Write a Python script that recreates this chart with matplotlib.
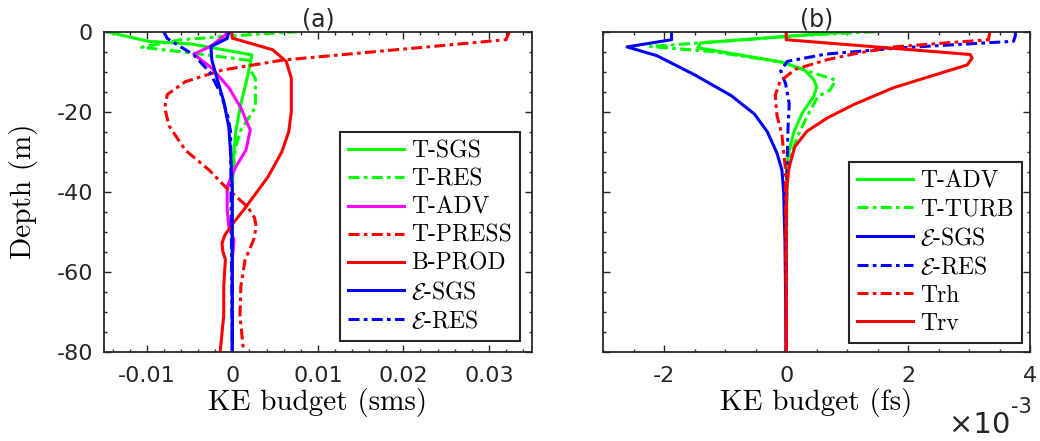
import matplotlib
matplotlib.use("Agg")
import matplotlib.pyplot as plt
from matplotlib.ticker import MultipleLocator

plt.rcParams['mathtext.fontset'] = 'cm'
plt.rcParams['axes.unicode_minus'] = False

# ---- panel (a): KE budget, single-mode scaling (sms) ----
tsgs_z = [0, -2.4, -3.1, -5.8, -12, -18, -25, -32, -40, -80]
tsgs_v = [-0.0147, -0.0098, -0.0047, 0.0023, 0.0017, 0.0010, 0.0004, 0.0001, 0.0, 0.0]

tres_z = [0, -0.6, -2.0, -3.9, -5.0, -7.2, -9.2, -11.7, -18.8, -21.3, -24.6, -28.8, -34.6, -40, -80]
tres_v = [0.0077, 0.003, -0.006, -0.0106, -0.006, 0.0021, 0.002, 0.0027, 0.0027, 0.002, 0.001,
          0.0004, 0.0001, 0.0, 0.0]

tadv_z = [0, -1.5, -3.6, -5.6, -9.1, -14, -19, -24.6, -29.6, -33.8, -38.8, -44.6, -48.8, -52,
          -57, -80]
tadv_v = [-0.0004, -0.0012, -0.0025, -0.0045, -0.0024, -0.0004, 0.001, 0.0021, 0.0016, 0.0004,
          -0.0006, -0.0006, -0.0004, 0.0002, 0.0, 0.0]

tpress_z = [0, -2.0, -7.1, -9.6, -12.5, -15.7, -19, -23.5, -29.6, -34.6, -38.8, -43.8, -46.5,
            -48.7, -52, -57, -63.7, -71, -79.6]
tpress_v = [0.0324, 0.032, 0.0059, -0.0012, -0.0055, -0.0076, -0.0079, -0.0074, -0.0055, -0.0027,
            -0.0008, 0.0018, 0.0026, 0.0028, 0.0025, 0.0015, 0.001, 0.0009, 0.0013]

bprod_z = [0, -1.6, -4.5, -7.4, -11.6, -20, -25, -30, -36.2, -43.8, -48.7, -51, -52.9, -55, -57,
           -60, -63.7, -71, -79.6]
bprod_v = [-0.0001, 0.0, 0.0047, 0.0063, 0.0069, 0.0069, 0.0066, 0.0058, 0.0042, 0.0016,
           -0.0002, -0.0009, -0.0012, -0.0011, -0.0008, -0.0009, -0.001, -0.001, -0.0014]

esgs_z = [0, -1.7, -3.7, -7.0, -11.6, -17.4, -24, -30.4, -38.8, -80]
esgs_v = [-0.0004, -0.0006, -0.0025, -0.0024, -0.0018, -0.001, -0.0004, -0.0002, 0.0, 0.0]

eres_z = [0, -1.7, -5.8, -10.2, -15.7, -21.3, -25, -80]
eres_v = [-0.008, -0.0076, -0.0045, -0.0026, -0.0013, -0.0005, -0.0002, 0.0]

# ---- panel (b): KE budget, full-scaling (fs), in units of 1e-3 ----
adv_z = [0, -0.7, -2.8, -4.0, -7.6, -9.6, -11.9, -13.8, -16.2, -20.4, -25.4, -30.4, -34.6, -80]
adv_v = [1.05, 0.4, -1.4, -1.45, -0.07, 0.3, 0.45, 0.50, 0.45, 0.26, 0.12, 0.04, 0.01, 0.0]

turb_z = [0, -1.0, -3.7, -5.0, -7.6, -9.5, -12.1, -14.6, -16.2, -21.0, -26.0, -31.2, -36.2, -80]
turb_v = [1.46, 0.2, -2.23, -1.2, -0.07, 0.29, 0.81, 0.72, 0.52, 0.35, 0.19, 0.07, 0.01, 0.0]

esgs_b_z = [0, -2.0, -3.8, -6.0, -10.8, -16.0, -20.6, -25.0, -30.4, -34.6, -40.4, -47, -52, -80]
esgs_b_v = [-1.88, -1.88, -2.61, -2.12, -1.5, -0.9, -0.52, -0.31, -0.15, -0.07, -0.04, -0.03,
            -0.02, 0.0]

eres_b_z = [0, -1.0, -2.4, -4.0, -5.6, -7.4, -9.8, -13.0, -18.0, -24, -30.4, -38.8, -50, -80]
eres_b_v = [3.76, 3.76, 3.73, 1.9, 0.65, 0.02, -0.09, -0.01, 0.05, 0.03, 0.02, 0.01, 0.0, 0.0]

trh_z = [0, -2.0, -3.8, -5.4, -7.0, -9.4, -12.4, -15.9, -21.0, -25.7, -28.8, -34.6, -80]
trh_v = [3.34, 3.32, 1.76, 1.16, 0.67, 0.15, -0.1, -0.18, -0.15, -0.07, -0.05, -0.01, 0.0]

trv_z = [0, -2.0, -5.7, -6.6, -8.3, -14, -18.2, -21.6, -24.9, -28.8, -33.8, -38.8, -47, -80]
trv_v = [0.0, 0.0, 3.02, 3.05, 2.97, 1.76, 1.11, 0.67, 0.34, 0.14, 0.05, 0.01, 0.0, 0.0]

green, blue, red, magenta = '#00ff00', '#0000ff', '#ff0000', '#ff00ff'
dashdot = (0, (3.6, 1.4, 1.2, 1.4))
lw = 2.2
frame_col = '#262626'
tick_font = dict(family='DejaVu Sans', size=16)
cm_font = 'cmr10'

fig = plt.figure(figsize=(10.4, 4.41), dpi=100)
ax1 = fig.add_axes([0.100, 0.2025, 0.4112, 0.7256])
ax2 = fig.add_axes([0.5801, 0.2025, 0.4103, 0.7256])

ax1.plot(tsgs_v, tsgs_z, color=green, lw=lw, label='T-SGS')
ax1.plot(tres_v, tres_z, color=green, lw=lw, ls=dashdot, label='T-RES')
ax1.plot(tadv_v, tadv_z, color=magenta, lw=lw, label='T-ADV')
ax1.plot(tpress_v, tpress_z, color=red, lw=lw, ls=dashdot, label='T-PRESS')
ax1.plot(bprod_v, bprod_z, color=red, lw=lw, label='B-PROD')
ax1.plot(esgs_v, esgs_z, color=blue, lw=lw, label=r'$\mathcal{E}$-SGS')
ax1.plot(eres_v, eres_z, color=blue, lw=lw, ls=dashdot, label=r'$\mathcal{E}$-RES')

ax2.plot(adv_v, adv_z, color=green, lw=lw, label='T-ADV')
ax2.plot(turb_v, turb_z, color=green, lw=lw, ls=dashdot, label='T-TURB')
ax2.plot(esgs_b_v, esgs_b_z, color=blue, lw=lw, label=r'$\mathcal{E}$-SGS')
ax2.plot(eres_b_v, eres_b_z, color=blue, lw=lw, ls=dashdot, label=r'$\mathcal{E}$-RES')
ax2.plot(trh_v, trh_z, color=red, lw=lw, ls=dashdot, label='Trh')
ax2.plot(trv_v, trv_z, color=red, lw=lw, label='Trv')

ax1.set_xlim(-0.015, 0.035)
ax1.set_xticks([-0.01, 0, 0.01, 0.02, 0.03])
ax1.set_xticklabels(['-0.01', '0', '0.01', '0.02', '0.03'])
ax1.xaxis.set_minor_locator(MultipleLocator(0.002))
ax2.set_xlim(-3, 4)
ax2.set_xticks([-2, 0, 2, 4])
ax2.set_xticklabels(['-2', '0', '2', '4'])
ax2.xaxis.set_minor_locator(MultipleLocator(0.5))

for ax in (ax1, ax2):
    ax.set_ylim(-80, 0)
    ax.set_yticks([0, -20, -40, -60, -80])
    ax.yaxis.set_minor_locator(MultipleLocator(5))
    ax.tick_params(which='both', direction='in', top=True, right=True, color=frame_col,
                   width=1.0, labelcolor='#262626')
    ax.tick_params(which='major', length=5, pad=8)
    ax.tick_params(axis='x', which='major', pad=10)
    ax.tick_params(which='minor', length=2.5)
    for sp in ax.spines.values():
        sp.set_color(frame_col)
        sp.set_linewidth(1.3)

ax1.set_yticklabels(['0', '-20', '-40', '-60', '-80'])
ax2.set_yticklabels([])
for ax in (ax1, ax2):
    for lab in ax.get_xticklabels() + ax.get_yticklabels():
        lab.set(**tick_font)

ax1.set_title('(a)', fontsize=17, pad=2, color='#262626')
ax2.set_title('(b)', fontsize=17, pad=2, color='#262626')

ax1.set_ylabel('Depth (m)', family=cm_font, fontsize=21, labelpad=13)
ax1.set_xlabel('KE budget (sms)', family=cm_font, fontsize=21, labelpad=2)
ax2.set_xlabel('KE budget (fs)', family=cm_font, fontsize=21, labelpad=2)

# exponent of the (b) axis, drawn below its right end
fig.text(0.9715, 0.005, '\u00d710', ha='right', va='bottom', fontsize=21,
         family='DejaVu Sans', color='#262626')
fig.text(0.9725, 0.055, '-3', ha='left', va='bottom', fontsize=15,
         family='DejaVu Sans', color='#262626')

leg_kw = dict(prop={'family': cm_font, 'size': 17}, frameon=True, fancybox=False,
              edgecolor=frame_col, framealpha=1, handlelength=2.35, handletextpad=0.3,
              labelspacing=0.25, borderpad=0.36, borderaxespad=0)
l1 = ax1.legend(loc='lower right', bbox_to_anchor=(0.973, 0.033), **leg_kw)
l2 = ax2.legend(loc='lower right', bbox_to_anchor=(0.981, 0.027), **leg_kw)
for lg in (l1, l2):
    lg.get_frame().set_linewidth(1.5)

fig.savefig('out.png', dpi=100)
